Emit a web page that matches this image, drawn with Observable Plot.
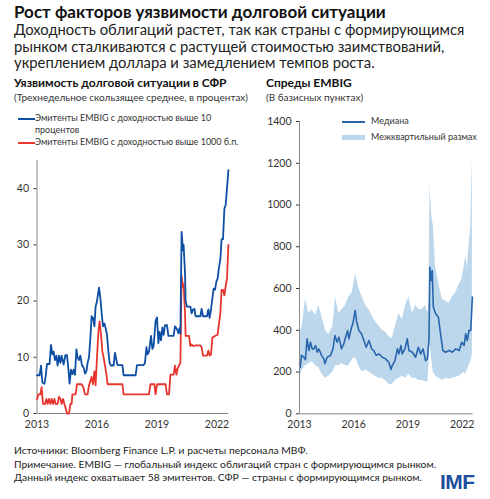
<!DOCTYPE html>
<html><head><meta charset="utf-8">
<script src="https://cdn.jsdelivr.net/npm/d3@7"></script>
<script src="https://cdn.jsdelivr.net/npm/@observablehq/plot@0.6"></script>
<style>
body{margin:0;background:#fff;font-family:Lato,"Open Sans",sans-serif;color:#222;}
#wrap{position:relative;width:490px;height:499px;overflow:hidden;}
.abs{position:absolute;white-space:nowrap;}
.title{left:14px;top:2px;font-size:17px;line-height:19px;font-weight:700;color:#111}
.sub{left:14px;top:21px;font-size:14.8px;line-height:16.5px;color:#222}
.ptitle{font-size:12px;line-height:14px;font-weight:700;color:#111}
.psub{font-size:10px;color:#333}
.leg{font-size:9px;color:#333;line-height:12px}
.foot{left:14px;top:444px;font-size:10.3px;line-height:13.5px;color:#222}
.imf{left:440px;top:470px;font-size:21px;font-weight:800;color:#1d4f9c;font-family:"Liberation Sans",Arial,sans-serif;letter-spacing:-0.5px}
</style></head>
<body><div id="wrap">
<div class="abs title">Рост факторов уязвимости долговой ситуации</div>
<div class="abs sub">Доходность облигаций растет, так как страны с формирующимся<br>рынком сталкиваются с растущей стоимостью заимствований,<br>укреплением доллара и замедлением темпов роста.</div>
<div class="abs ptitle" style="left:14px;top:76px">Уязвимость долговой ситуации в СФР</div>
<div class="abs psub" style="left:14px;top:91px">(Трехнедельное скользящее среднее, в процентах)</div>
<div class="abs ptitle" style="left:266px;top:76px">Спреды EMBIG</div>
<div class="abs psub" style="left:266px;top:91px">(В базисных пунктах)</div>
<div id="left" class="abs" style="left:0;top:110px;width:240px;height:330px"></div>
<div id="right" class="abs" style="left:245px;top:110px;width:245px;height:330px"></div>
<div class="abs leg" style="left:18px;top:112px">
 <span style="display:inline-block;width:17px;height:2px;background:#0e4fa3;vertical-align:middle"></span>Эмитенты EMBIG с доходностью выше 10<br>
 <span style="display:inline-block;width:17px"></span>процентов<br>
 <span style="display:inline-block;width:17px;height:2px;background:#e8352e;vertical-align:middle"></span>Эмитенты EMBIG с доходностью выше 1000 б.п.
</div>
<div class="abs leg" style="left:342px;top:113px;line-height:16px">
 <span style="display:inline-block;width:23px;height:2px;background:#2a66ad;vertical-align:middle;margin-right:6px"></span>Медиана<br>
 <span style="display:inline-block;width:23px;height:5px;background:#bcd7ec;vertical-align:middle;margin-right:6px"></span>Межквартильный размах
</div>
<div class="abs foot">Источники: Bloomberg Finance L.P. и расчеты персонала МВФ.<br>Примечание. EMBIG — глобальный индекс облигаций стран с формирующимся рынком.<br>Данный индекс охватывает 58 эмитентов. СФР — страны с формирующимся рынком.</div>
<div class="abs imf">IMF</div>
</div>
<script>
// ---- Data ----
const yearTicks = [2013, 2016, 2019, 2022];
const leftYTicks = [0, 10, 20, 30, 40];
const rightYTicks = [0, 200, 400, 600, 800, 1000, 1200, 1400];

const blueT = [2013.00,2013.13,2013.20,2013.27,2013.37,2013.43,2013.50,2013.63,2013.70,2013.77,2013.83,2013.90,2013.97,2014.03,2014.10,2014.17,2014.23,2014.33,2014.42,2014.50,2014.58,2014.63,2014.70,2014.77,2014.83,2014.90,2014.97,2015.03,2015.10,2015.17,2015.25,2015.33,2015.40,2015.47,2015.53,2015.60,2015.67,2015.73,2015.80,2015.87,2015.93,2016.00,2016.10,2016.17,2016.23,2016.30,2016.37,2016.43,2016.50,2016.57,2016.63,2016.70,2016.77,2016.83,2016.90,2016.97,2017.03,2017.27,2017.33,2017.93,2018.00,2018.33,2018.40,2018.47,2018.53,2018.60,2018.70,2018.77,2018.83,2018.93,2019.00,2019.07,2019.13,2019.20,2019.27,2019.33,2019.40,2019.50,2019.57,2019.83,2019.90,2020.00,2020.07,2020.13,2020.17,2020.23,2020.30,2020.33,2020.40,2020.43,2020.50,2020.67,2020.73,2020.80,2020.87,2020.93,2021.17,2021.23,2021.30,2021.50,2021.57,2021.63,2021.70,2021.77,2021.83,2021.90,2021.97,2022.03,2022.10,2022.17,2022.23,2022.30,2022.37,2022.43,2022.50,2022.57];
const blueV = [6.8,6.8,8.5,5.5,5.3,6.5,8.8,8.8,12.2,10.5,11.0,9.5,10.3,8.5,10.3,9.0,10.3,8.7,10.4,10.4,7.5,5.3,7.8,7.0,7.8,6.9,11.4,10.0,9.5,10.3,8.5,8.2,7.1,7.5,9.0,10.0,13.5,17.3,17.0,15.5,19.0,20.0,22.4,20.5,18.0,15.5,16.0,15.2,14.0,11.0,9.0,8.5,8.6,8.5,10.8,9.5,8.6,8.6,6.8,6.8,8.6,8.6,9.0,11.8,10.5,11.0,13.8,11.5,12.0,16.5,17.1,12.5,14.5,13.0,15.3,14.0,15.7,15.7,13.8,13.8,15.5,15.0,14.3,15.2,14.2,32.3,29.0,30.0,25.0,20.0,19.0,19.0,17.8,18.5,18.6,17.3,17.3,18.6,17.3,17.3,18.5,17.0,18.5,20.5,22.2,22.0,23.5,24.0,26.0,27.5,31.0,31.0,36.5,37.0,40.0,43.3];

const redT = [2013.00,2013.07,2013.17,2013.23,2013.30,2013.40,2013.47,2013.53,2013.60,2013.67,2013.73,2013.80,2013.87,2013.93,2014.03,2014.10,2014.17,2014.23,2014.30,2014.37,2014.43,2014.50,2014.60,2014.67,2014.73,2014.77,2014.93,2015.00,2015.23,2015.33,2015.40,2015.53,2015.60,2015.67,2015.73,2015.80,2015.87,2015.93,2016.00,2016.07,2016.13,2016.20,2016.27,2016.33,2016.40,2016.47,2016.53,2017.27,2017.33,2018.60,2018.67,2018.87,2018.93,2019.00,2019.43,2019.50,2019.60,2019.67,2019.83,2019.90,2019.97,2020.03,2020.10,2020.17,2020.23,2020.30,2020.33,2020.40,2020.43,2020.60,2020.67,2020.73,2020.80,2020.93,2021.17,2021.23,2021.30,2021.50,2021.57,2021.63,2021.70,2021.77,2021.90,2022.03,2022.10,2022.17,2022.23,2022.30,2022.37,2022.43,2022.50,2022.57];
const redV = [2.5,3.4,3.4,4.7,1.7,1.7,2.6,1.7,2.6,1.7,2.6,1.7,2.6,1.7,1.7,3.0,2.6,1.7,2.6,1.7,1.0,0,0,1.7,1.7,3.4,3.4,5.2,5.2,4.5,3.4,3.4,5.0,5.8,6.5,5.2,7.5,5.0,10.0,14.5,16.4,14.0,11.0,10.0,8.5,7.0,5.2,5.2,3.4,3.4,5.2,5.2,3.4,5.2,5.2,3.4,3.4,6.9,6.9,8.5,6.9,8.0,8.5,9.0,24.5,22.5,23.0,18.0,13.8,13.8,12.0,12.3,12.0,12.1,12.1,11.8,10.3,10.3,11.2,10.3,10.5,13.5,13.8,14.0,16.0,18.0,22.0,22.0,21.0,22.5,24.0,30.0];

const medT = [2013.00,2013.04,2013.11,2013.24,2013.33,2013.42,2013.52,2013.61,2013.70,2013.79,2013.89,2013.98,2014.07,2014.22,2014.35,2014.40,2014.53,2014.72,2014.85,2014.96,2015.08,2015.18,2015.32,2015.45,2015.55,2015.66,2015.73,2015.88,2015.95,2016.08,2016.15,2016.28,2016.43,2016.56,2016.69,2016.84,2016.99,2017.11,2017.24,2017.39,2017.58,2017.76,2017.94,2018.06,2018.13,2018.28,2018.41,2018.50,2018.61,2018.68,2018.83,2018.96,2019.05,2019.24,2019.42,2019.57,2019.70,2019.83,2019.97,2020.07,2020.16,2020.21,2020.29,2020.34,2020.40,2020.53,2020.68,2020.80,2020.93,2021.08,2021.27,2021.45,2021.64,2021.83,2021.97,2022.10,2022.19,2022.28,2022.37,2022.47,2022.56];
const medV = [240,223,280,271,259,359,303,343,311,311,327,295,311,280,263,240,271,280,311,375,343,367,311,335,367,399,359,415,431,495,447,399,383,351,319,351,311,303,280,287,271,263,247,212,231,255,311,287,327,287,311,359,303,295,271,319,287,311,255,263,351,702,638,686,511,479,463,383,303,295,303,295,311,303,343,327,383,351,399,399,559];

const iqrT = [2013.00,2013.15,2013.33,2013.52,2013.70,2013.89,2014.07,2014.25,2014.44,2014.62,2014.85,2014.99,2015.18,2015.36,2015.55,2015.73,2015.92,2016.10,2016.28,2016.47,2016.65,2016.84,2017.02,2017.21,2017.39,2017.58,2017.76,2017.94,2018.13,2018.31,2018.50,2018.68,2018.87,2019.05,2019.24,2019.42,2019.61,2019.79,2019.97,2020.10,2020.16,2020.21,2020.31,2020.40,2020.53,2020.71,2020.90,2021.08,2021.27,2021.45,2021.64,2021.83,2021.97,2022.10,2022.19,2022.28,2022.37,2022.47,2022.56];
const iqrLo = [170,210,230,240,250,230,220,190,170,180,200,230,230,240,230,230,260,270,230,200,210,200,190,180,170,170,160,140,140,160,170,180,170,190,170,170,160,160,155,150,230,350,260,200,180,170,160,170,165,170,175,180,190,200,190,210,230,250,280];
const iqrHi = [380,420,550,480,500,470,520,460,400,380,420,560,480,500,520,560,580,670,600,560,520,500,470,440,420,400,390,370,360,420,480,450,520,560,480,520,500,500,520,480,550,1100,950,900,700,620,550,540,530,560,580,620,640,700,760,700,800,900,1230];

// ---- Build tables ----
const blue = blueT.map((t, i) => ({t, v: blueV[i]}));
const red = redT.map((t, i) => ({t, v: redV[i]}));
const med = medT.map((t, i) => ({t, v: medV[i]}));
const iqr = iqrT.map((t, i) => ({t, lo: iqrLo[i], hi: iqrHi[i]}));

const font = "Lato,'Open Sans',sans-serif";
const axisColor = "#8a8a8a";

const left = Plot.plot({
  width: 240, height: 330,
  marginLeft: 36.5, marginRight: 11.5, marginTop: 50, marginBottom: 27,
  style: {fontFamily: font, fontSize: "10.5px", color: "#333", background: "transparent", overflow: "visible"},
  x: {domain: [2013, 2022.6], ticks: yearTicks, tickFormat: d => String(d), tickSize: 0, tickPadding: 7, label: null},
  y: {domain: [0, 45], ticks: leftYTicks, tickFormat: d => String(d), tickSize: 3, tickPadding: 5, label: null},
  marks: [
    Plot.ruleX([2013], {stroke: axisColor, strokeWidth: 1}),
    Plot.ruleY([0], {stroke: axisColor, strokeWidth: 1}),
    Plot.line(red, {x: "t", y: "v", stroke: "#e8352e", strokeWidth: 1.8}),
    Plot.line(blue, {x: "t", y: "v", stroke: "#0e4fa3", strokeWidth: 1.8})
  ]
});
document.getElementById("left").appendChild(left);

const right = Plot.plot({
  width: 245, height: 330,
  marginLeft: 54, marginRight: 17.4, marginTop: 11, marginBottom: 26.7,
  style: {fontFamily: font, fontSize: "10.5px", color: "#333", background: "transparent", overflow: "visible"},
  x: {domain: [2013, 2022.6], ticks: yearTicks, tickFormat: d => String(d), tickSize: 0, tickPadding: 7, label: null},
  y: {domain: [0, 1400], ticks: rightYTicks, tickFormat: d => String(d), tickSize: 3, tickPadding: 5, label: null},
  marks: [
    Plot.areaY(iqr, {x: "t", y1: "lo", y2: "hi", fill: "#bcd7ec"}),
    Plot.line(med, {x: "t", y: "v", stroke: "#2a66ad", strokeWidth: 1.6}),
    Plot.ruleX([2013], {stroke: axisColor, strokeWidth: 1}),
    Plot.ruleY([0], {stroke: axisColor, strokeWidth: 1})
  ]
});
document.getElementById("right").appendChild(right);
</script>
</body></html>
